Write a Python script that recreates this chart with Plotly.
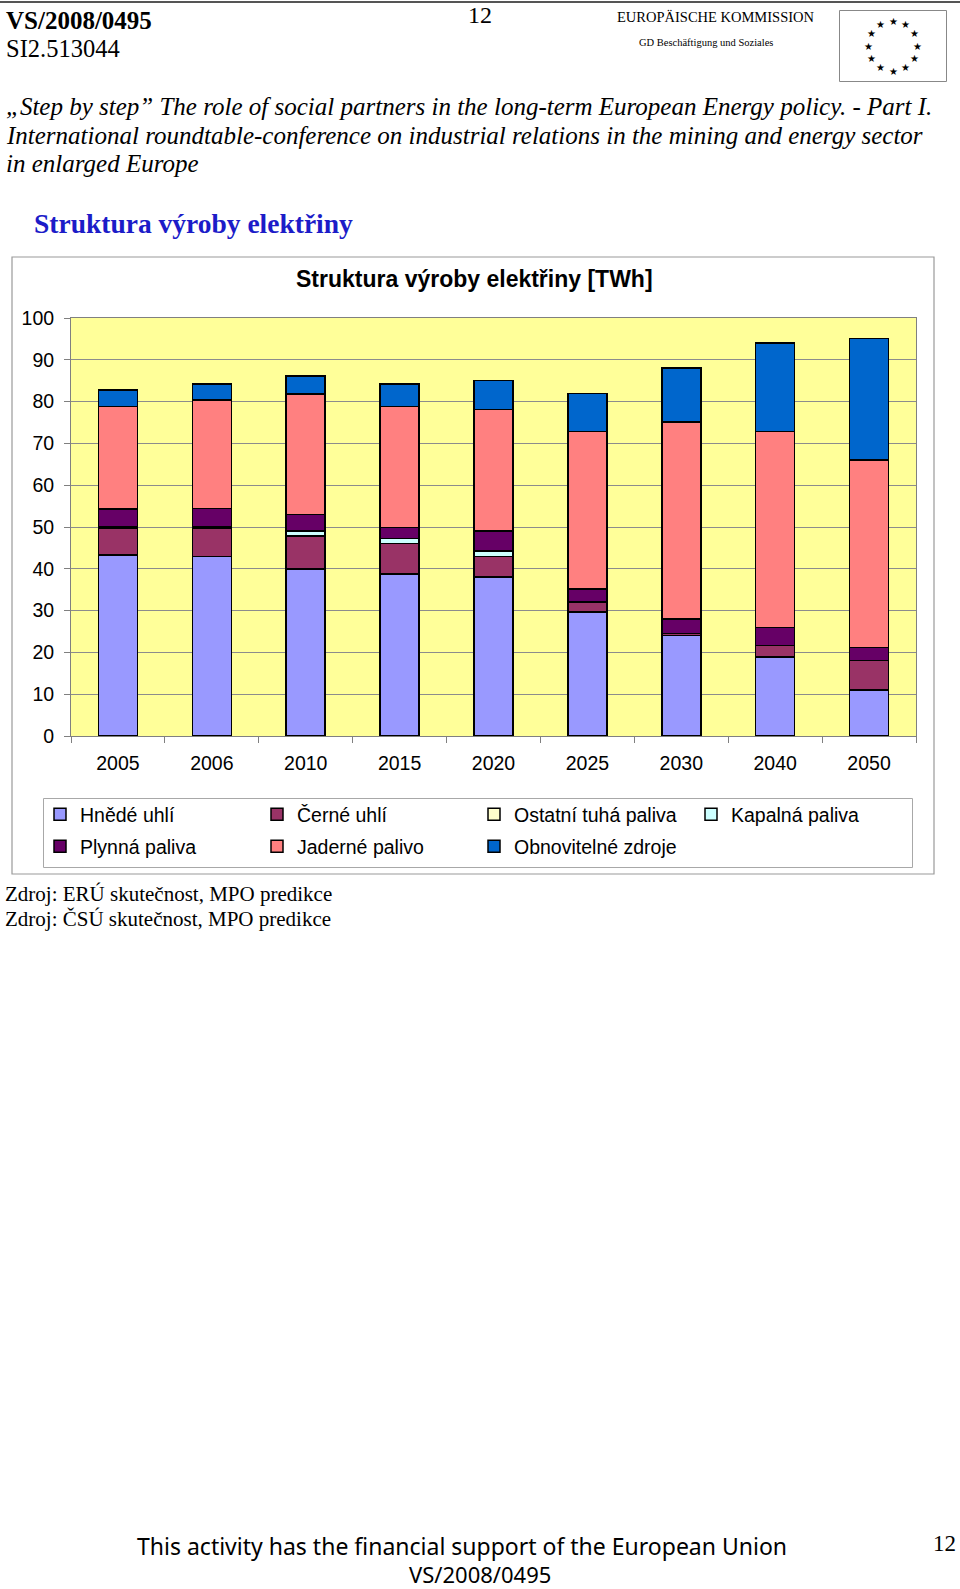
import math
import plotly.graph_objects as go

# ---------------- data ----------------
years = ["2005", "2006", "2010", "2015", "2020", "2025", "2030", "2040", "2050"]
hnede_uhli = [43.3, 42.9, 39.9, 38.8, 38.0, 29.7, 24.1, 18.9, 11.0]
cerne_uhli = [6.5, 6.9, 8.0, 7.2, 5.0, 2.3, 0.4, 2.8, 7.1]
ostatni_tuha = [0, 0, 0, 0, 0, 0, 0, 0, 0]
kapalna = [0.3, 0.3, 1.2, 1.2, 1.2, 0, 0, 0, 0]
plynna = [4.2, 4.3, 3.9, 2.7, 4.9, 3.2, 3.5, 4.3, 3.1]
jaderne = [24.5, 26.0, 28.8, 28.9, 29.0, 37.7, 47.1, 46.9, 44.8]
obnovitelne = [4.0, 3.8, 4.3, 5.4, 6.9, 9.0, 12.9, 21.1, 29.1]

series_names = ["Hnědé uhlí", "Černé uhlí", "Ostatní tuhá paliva", "Kapalná paliva",
                "Plynná paliva", "Jaderné palivo", "Obnovitelné zdroje"]
series_values = [hnede_uhli, cerne_uhli, ostatni_tuha, kapalna, plynna, jaderne, obnovitelne]
series_colors = ["#9999FF", "#993366", "#FFFFCC", "#CCFFFF", "#660066", "#FF8080", "#0066CC"]
y_ticks = [0, 10, 20, 30, 40, 50, 60, 70, 80, 90, 100]

# ---------------- geometry helpers ----------------
W, H = 960, 1589
ML, MR, MT, MB = 71, 44, 318, 853
PW = W - ML - MR
PH = H - MT - MB


def px(x):
    return (x - ML) / PW


def py(y):
    return (MT + PH - y) / PH


ARIAL = "Liberation Sans, Arial, sans-serif"
TIMES = "Liberation Serif, Times New Roman, serif"

fig = go.Figure()
for i, (name, vals, col) in enumerate(zip(series_names, series_values, series_colors)):
    fig.add_trace(go.Bar(
        x=years, y=vals, name=name,
        marker=dict(color=col, line=dict(color="black", width=1.5)),
        legend="legend" if i < 4 else "legend2",
    ))

ann = []


def text(x, y, s, size, family, color="black", anchor="left", bold=False, italic=False, yanchor="middle"):
    if bold:
        s = "<b>" + s + "</b>"
    if italic:
        s = "<i>" + s + "</i>"
    ann.append(dict(x=px(x), y=py(y), xref="paper", yref="paper", text=s, showarrow=False,
                    xanchor=anchor, yanchor=yanchor,
                    font=dict(size=size, family=family, color=color)))


# header
text(4, 20, "VS/2008/0495", 25, TIMES, bold=True)
text(4, 48, "SI2.513044", 24.5, TIMES)
text(480, 15, "12", 24, TIMES, anchor="center")
text(716, 17, "EUROPÄISCHE KOMMISSION", 14.5, TIMES, anchor="center")
text(706, 42, "GD Beschäftigung und Soziales", 10.5, TIMES, anchor="center")

# EU flag stars (decoration)
for k in range(12):
    a = 2 * math.pi * k / 12
    sx = 893 + 24.5 * math.sin(a)
    sy = 46 - 25 * math.cos(a)
    text(sx, sy, "★", 10, "DejaVu Sans", anchor="center")

# italic conference lines
text(4, 106, "„Step by step” The role of social partners in the long-term European Energy policy. - Part I.",
     25, TIMES, italic=True)
text(4, 135, "International roundtable-conference on industrial relations in the mining and energy sector",
     25, TIMES, italic=True)
text(4, 164, "in enlarged Europe", 25, TIMES, italic=True)

# section heading
text(32, 223, "Struktura výroby elektřiny", 27.5, TIMES, color="#1c1cc8", bold=True)

# chart title
text(474, 279, "Struktura výroby elektřiny [TWh]", 23, ARIAL, anchor="center", bold=True)

# sources
text(3, 894, "Zdroj: ERÚ skutečnost, MPO predikce", 21, TIMES)
text(3, 919, "Zdroj: ČSÚ skutečnost, MPO predikce", 21, TIMES)

# footer
text(462, 1546, "This activity has the financial support of the European Union", 23, "Noto Sans", anchor="center")
text(480, 1574, "VS/2008/0495", 22, "Noto Sans", anchor="center")
text(944, 1543, "12", 23, TIMES, anchor="center")

shapes = [
    dict(type="line", xref="paper", yref="paper", x0=px(0), x1=px(960), y0=py(2), y1=py(2),
         line=dict(color="#555555", width=2)),
    dict(type="rect", xref="paper", yref="paper", x0=px(839.5), x1=px(946.5), y0=py(10.5), y1=py(81.5),
         line=dict(color="#888888", width=1)),
    dict(type="rect", xref="paper", yref="paper", x0=px(12), x1=px(934), y0=py(257), y1=py(874),
         line=dict(color="#9a9a9a", width=1.2)),
    dict(type="rect", xref="paper", yref="paper", x0=px(43.5), x1=px(912.5), y0=py(798.5), y1=py(867.5),
         line=dict(color="#a8a8a8", width=1)),
]

legend_common = dict(orientation="h", xanchor="left", yanchor="top", bgcolor="rgba(0,0,0,0)",
                     borderwidth=0, entrywidth=172, entrywidthmode="pixels",
                     font=dict(size=19.5, family=ARIAL, color="black"), traceorder="normal")

fig.update_layout(
    width=W, height=H,
    margin=dict(l=ML, r=MR, t=MT, b=MB, pad=0),
    paper_bgcolor="white",
    plot_bgcolor="#FFFF99",
    barmode="stack",
    bargap=0.585,
    showlegend=True,
    legend=dict(x=px(40), y=py(795), **legend_common),
    legend2=dict(x=px(40), y=py(827), **legend_common),
    annotations=ann,
    shapes=shapes,
    xaxis=dict(type="category", showline=True, linecolor="#808080", linewidth=1, mirror=True,
               ticks="outside", tickson="boundaries", ticklen=6, tickcolor="#808080",
               showgrid=False, ticklabelstandoff=10,
               tickfont=dict(size=19.5, family=ARIAL, color="black")),
    yaxis=dict(range=[0, 100], tickvals=y_ticks, showline=True, linecolor="#808080", linewidth=1,
               mirror=True, ticks="outside", ticklen=6, tickcolor="#808080",
               showgrid=True, gridcolor="#8c8c8c", gridwidth=1, zeroline=False,
               ticklabelstandoff=6,
               tickfont=dict(size=19.5, family=ARIAL, color="black")),
)

fig.write_html("out.html",
               config={"displayModeBar": False},
               post_script="document.body.style.margin='0';document.body.style.overflow='hidden';")
